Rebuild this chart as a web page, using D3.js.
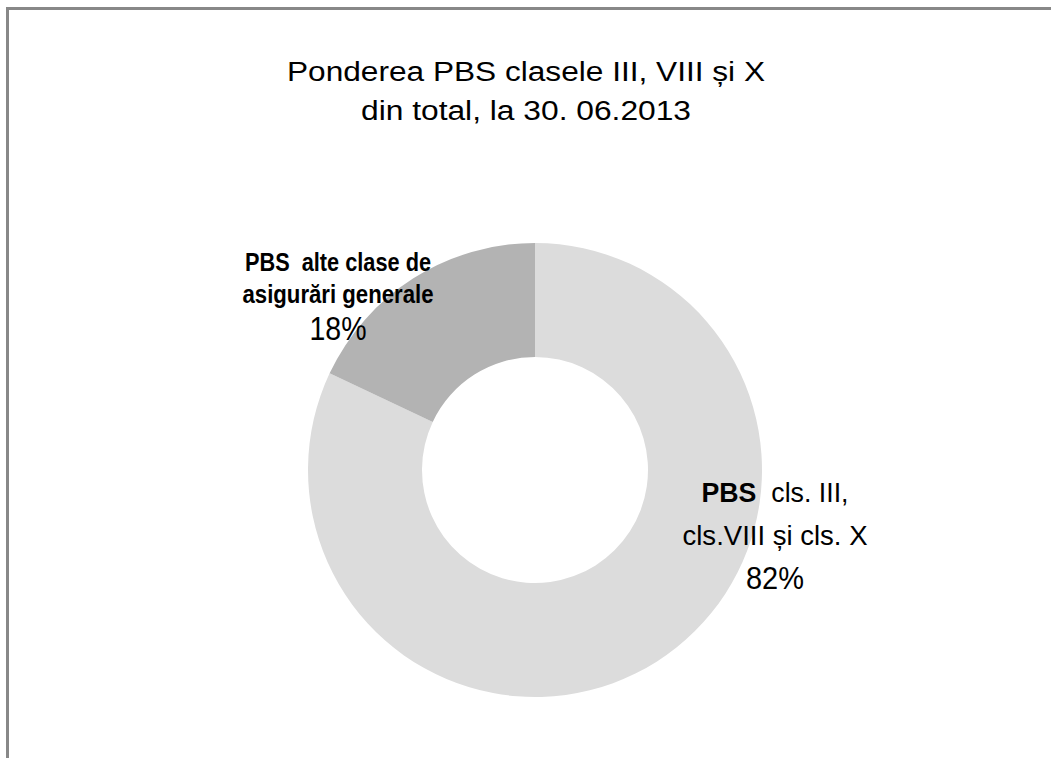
<!DOCTYPE html>
<html lang="ro">
<head>
<meta charset="UTF-8">
<title>Ponderea PBS</title>
<style>
    body { margin: 0; background: #fff; }
    svg text { font-family: "Liberation Sans Narrow", "Liberation Sans", Arial, sans-serif; fill: #000; }
    .title { font-family: "Liberation Sans", Arial, sans-serif; font-size: 27px; }
</style>
</head>
<body>
<div id="chart"></div>
<script src="https://d3js.org/d3.v7.min.js"></script>
<script>
    // data
    const categories = ["PBS cls. III, cls.VIII și cls. X", "PBS alte clase de asigurări generale"];
    const values = [82, 18];
    const titleLines = ["Ponderea PBS clasele III, VIII și X", "din total, la 30. 06.2013"];
    // each label line: [bold part, normal part]
    const labelLines = [
        [["PBS", "  cls. III,"], ["", "cls.VIII și cls. X"]],
        [["PBS  alte clase de", ""], ["asigurări generale", ""]]
    ];

    const w = 1051, h = 758;
    const cx = 535, cy = 470, outerR = 227, innerR = 113;

    const svg = d3.select("#chart").append("svg")
        .attr("width", w)
        .attr("height", h);

    // frame (only top and left edges fall inside the picture)
    svg.append("rect")
        .attr("x", 7.5).attr("y", 8.5)
        .attr("width", w + 20).attr("height", h + 20)
        .attr("fill", "none")
        .attr("stroke", "#888")
        .attr("stroke-width", 3);

    // title
    const titleY = [80.5, 119.5];
    const titleW = [478, 330];
    svg.selectAll("text.title")
        .data(titleLines)
        .enter()
        .append("text")
        .attr("class", "title")
        .attr("x", 526)
        .attr("y", (d, i) => titleY[i])
        .attr("text-anchor", "middle")
        .attr("textLength", (d, i) => titleW[i])
        .attr("lengthAdjust", "spacingAndGlyphs")
        .text(d => d);

    const color = d3.scaleOrdinal().domain(categories).range(["#dcdcdc", "#b3b3b3"]);

    const pie = d3.pie().sort(null).value(d => d);
    const arcs = pie(values);
    const arc = d3.arc().innerRadius(innerR).outerRadius(outerR);

    const g = svg.append("g").attr("transform", `translate(${cx},${cy})`);
    g.selectAll("path")
        .data(arcs)
        .enter()
        .append("path")
        .attr("d", arc)
        .attr("fill", (d, i) => color(categories[i]));

    // labels (layout: line baselines, sizes, widths per slice)
    const labelLayout = [
        { x: 775, ys: [502, 545, 589], sizes: [27, 27, 31], widths: [147, 185, 58] },
        { x: 338, ys: [271, 303, 340], sizes: [25, 25, 33], widths: [186, 191, 57] }
    ];

    arcs.forEach((a, i) => {
        const L = labelLayout[i];
        const pct = d3.format(".0%")(a.value / d3.sum(values));
        const lines = labelLines[i].concat([["", pct]]);
        const t = svg.append("g").selectAll("text")
            .data(lines)
            .enter()
            .append("text")
            .attr("x", L.x)
            .attr("y", (d, j) => L.ys[j])
            .attr("text-anchor", "middle")
            .attr("font-size", (d, j) => L.sizes[j] + "px")
            .attr("textLength", (d, j) => L.widths[j])
            .attr("lengthAdjust", "spacingAndGlyphs")
            .style("white-space", "pre");
        t.append("tspan").attr("font-weight", "bold").text(d => d[0]);
        t.append("tspan").attr("font-weight", "normal").text(d => d[1]);
    });
</script>
</body>
</html>
